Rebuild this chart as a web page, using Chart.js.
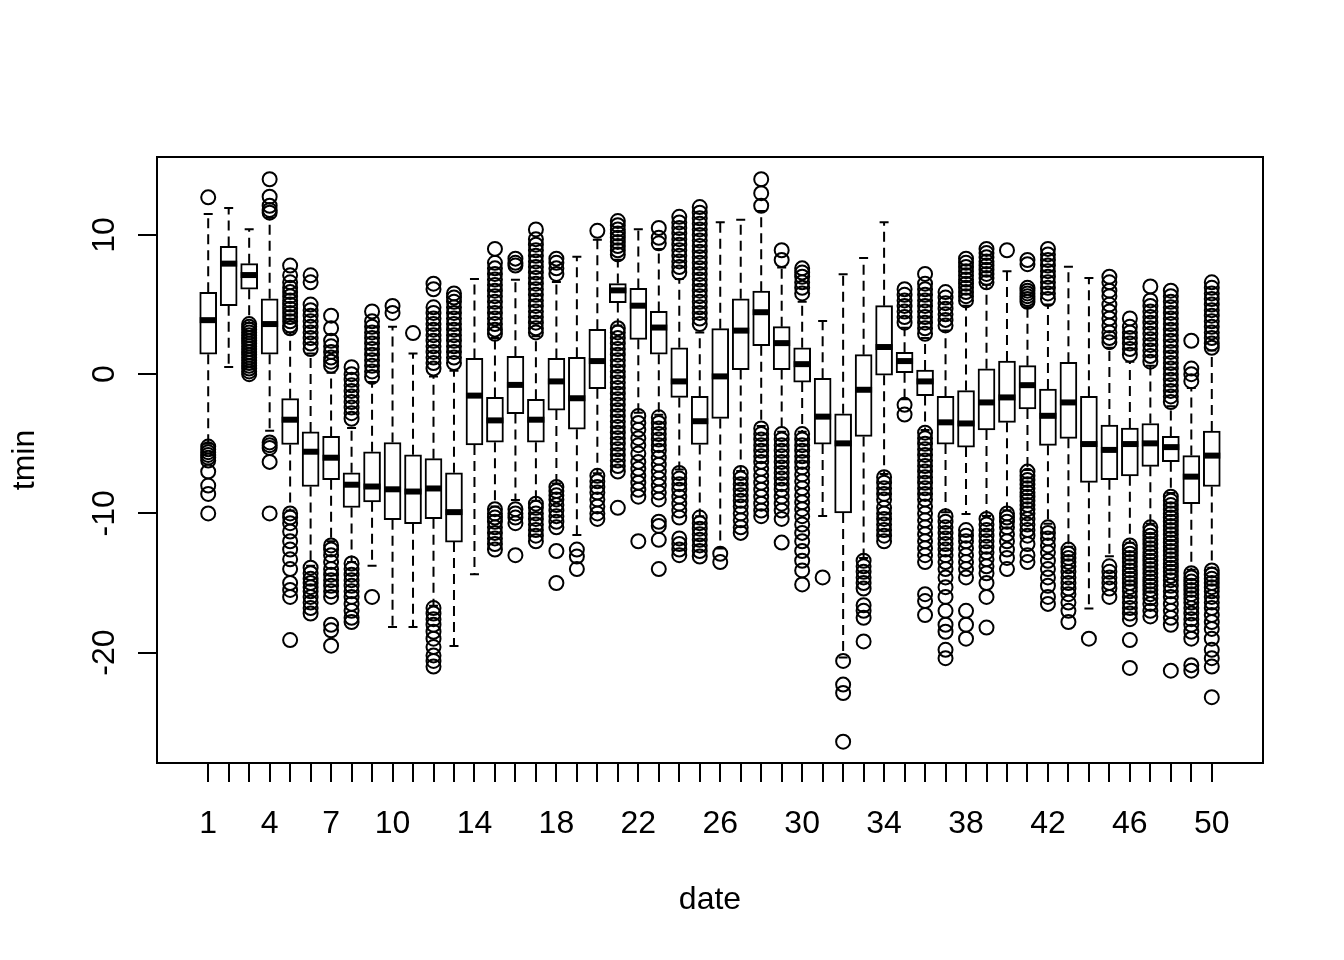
<!DOCTYPE html>
<html>
<head>
<meta charset="utf-8">
<title>tmin by date</title>
<script src="https://cdn.jsdelivr.net/npm/chart.js@4.4.1/dist/chart.umd.min.js"></script>
<style>
  html, body { margin: 0; padding: 0; background: #fff; }
  #wrap { width: 1344px; height: 960px; }
</style>
</head>
<body>
<div id="wrap"><canvas id="boxChart" width="1344" height="960"></canvas></div>
<script>
// box statistics per date
const dates = [];
for (let d = 1; d <= 50; d++) dates.push(d);

const xTickLabels = [1, 4, 7, 10, 14, 18, 22, 26, 30, 34, 38, 42, 46, 50];
const yTickValues = [-20, -10, 0, 10];

const q1 = [1.43, 4.92, 6.1, 1.43, -5.05, -8.07, -7.58, -9.58, -9.17, -10.46,
  -10.74, -10.38, -12.06, -5.08, -4.89, -2.83, -4.89, -2.58, -3.95, -1.04,
  5.14, 2.5, 1.43, -1.67, -5.05, -3.18, 0.33, 2.04, 0.33, -0.57,
  -5.02, -9.97, -4.47, -0.08, 0.11, -1.54, -5.02, -5.24, -4.01, -3.46,
  -2.5, -5.11, -4.61, -7.77, -7.58, -7.3, -6.62, -6.29, -9.31, -8.07];

const medians = [3.88, 7.94, 7.12, 3.6, -3.27, -5.57, -6.0, -7.94, -8.07, -8.27,
  -8.43, -8.21, -9.91, -1.54, -3.32, -0.77, -3.27, -0.52, -1.73, 0.94,
  6.02, 4.92, 3.35, -0.52, -3.38, -0.16, 3.13, 4.45, 2.23, 0.72,
  -3.05, -4.97, -1.12, 1.95, 0.94, -0.52, -3.46, -3.54, -2.03, -1.67,
  -0.79, -2.99, -2.03, -5.02, -5.44, -5.02, -4.97, -5.24, -7.36, -5.85];

const q3 = [5.88, 9.18, 7.94, 5.41, -1.76, -4.15, -4.47, -7.08, -5.57, -4.91,
  -5.79, -6.07, -7.08, 1.13, -1.67, 1.29, -1.81, 1.13, 1.21, 3.22,
  6.51, 6.16, 4.51, 1.9, -1.59, 3.27, 5.41, 5.96, 3.41, 1.9,
  -0.3, -2.85, 1.4, 4.92, 1.57, 0.3, -1.59, -1.18, 0.39, 0.94,
  0.61, -1.07, 0.85, -1.59, -3.65, -3.87, -3.54, -4.47, -5.85, -4.09];

const whiskerLow = [-5.0, 0.52, 3.7, -4.06, -9.8, -13.76, -12.0, -13.5, -13.76, -18.16,
  -18.16, -16.64, -19.53, -14.37, -9.5, -9.04, -9.09, -7.85, -11.56, -7.11,
  3.49, -2.77, -2.91, -6.84, -10.2, -12.52, -6.95, -3.73, -4.14, -4.14,
  -10.19, -20.35, -13.21, -7.17, -1.81, -4.01, -9.91, -10.05, -10.19, -9.78,
  -6.89, -10.74, -12.39, -16.84, -13.07, -12.11, -10.74, -8.54, -14.04, -13.9];

const whiskerHigh = [11.5, 11.93, 10.41, 11.24, 3.0, 1.49, 0.11, -3.87, -0.57, 3.41,
  1.49, -0.16, 0.25, 6.84, 2.59, 6.79, 2.72, 6.62, 8.44, 9.65,
  8.22, 10.41, 8.99, 6.84, 3.0, 10.91, 11.1, 11.73, 7.67, 5.2,
  3.82, 7.17, 8.35, 10.91, 3.33, 2.59, 3.13, 4.92, 6.43, 7.39,
  4.8, 5.0, 7.72, 6.9, 1.9, 0.9, 0.6, -2.3, -0.99, 1.7];

const outliers = [
  [12.7, -5.2, -5.4, -5.6, -5.8, -6.0, -6.2, -7.0, -8.0, -8.6, -10.0],
  [],
  [3.6, 3.4, 3.2, 3.0, 2.8, 2.6, 2.4, 2.2, 2.0, 1.8, 1.6, 1.4, 1.2, 1.0, 0.8, 0.6, 0.4, 0.2, 0.0],
  [14.0, 12.75, 12.1, 11.8, 11.6, -4.9, -5.1, -5.3, -6.3, -10.0],
  [7.8, 7.1, 6.6, 6.2, 5.9, 5.6, 5.3, 5.0, 4.7, 4.4, 4.1, 3.8, 3.5, 3.3, -10.0, -10.3, -10.7, -11.3, -12.0, -12.6, -13.3, -14.0, -15.0, -15.5, -16.0, -19.1],
  [7.1, 6.6, 5.0, 4.6, 4.2, 3.8, 3.4, 3.0, 2.6, 2.2, 1.8, -13.9, -14.3, -14.7, -15.0, -15.3, -15.6, -16.0, -16.4, -16.8, -17.2],
  [4.2, 3.3, 2.4, 2.0, 1.6, 1.2, 0.9, 0.6, -12.3, -12.6, -13.0, -13.5, -14.0, -14.4, -14.8, -15.2, -15.6, -16.0, -18.0, -18.4, -19.5],
  [0.5, 0.0, -0.4, -0.8, -1.2, -1.6, -2.0, -2.4, -2.8, -3.2, -13.6, -14.0, -14.4, -14.8, -15.2, -15.6, -16.0, -16.5, -17.0, -17.5, -17.8],
  [4.5, 3.8, 3.4, 3.0, 2.6, 2.2, 1.8, 1.4, 1.0, 0.6, 0.2, -0.2, -16.0],
  [4.9, 4.4],
  [2.95],
  [6.5, 6.1, 4.8, 4.4, 4.0, 3.6, 3.2, 2.8, 2.4, 2.0, 1.6, 1.2, 0.8, 0.4, -16.8, -17.2, -17.6, -18.0, -18.5, -19.0, -19.6, -20.2, -20.6, -21.0],
  [5.8, 5.5, 5.2, 4.8, 4.4, 4.0, 3.6, 3.2, 2.8, 2.4, 2.0, 1.6, 1.2, 0.8],
  [],
  [9.0, 8.0, 7.6, 7.2, 6.8, 6.4, 6.0, 5.6, 5.2, 4.8, 4.4, 4.0, 3.6, 3.2, 2.9, -9.7, -10.0, -10.3, -10.6, -11.0, -11.4, -11.8, -12.2, -12.6],
  [8.3, 8.0, 7.8, -9.7, -10.0, -10.3, -10.7, -13.0],
  [10.4, 9.7, 9.3, 8.9, 8.5, 8.1, 7.7, 7.3, 6.9, 6.5, 6.1, 5.7, 5.3, 4.9, 4.5, 4.1, 3.7, 3.3, 3.0, -9.3, -9.6, -10.0, -10.4, -10.8, -11.2, -11.6, -12.0],
  [8.3, 8.0, 7.6, 7.2, -8.1, -8.4, -8.7, -9.0, -9.4, -9.8, -10.2, -10.6, -11.0, -12.7, -15.0],
  [-12.6, -13.1, -14.0],
  [10.3, -7.3, -7.7, -8.1, -8.5, -9.0, -9.5, -10.0, -10.4],
  [11.0, 10.7, 10.4, 10.1, 9.8, 9.5, 9.2, 8.9, 8.6, 3.3, 3.0, 2.6, 2.2, 1.8, 1.4, 1.0, 0.6, 0.2, -0.2, -0.6, -1.0, -1.4, -1.8, -2.2, -2.6, -3.0, -3.4, -3.8, -4.2, -4.6, -5.0, -5.4, -5.8, -6.2, -6.6, -7.0, -9.6],
  [-3.0, -3.5, -4.0, -4.6, -5.1, -5.7, -6.3, -6.8, -7.3, -7.8, -8.3, -8.8, -12.0],
  [10.5, 9.8, 9.4, -3.1, -3.5, -3.9, -4.3, -4.7, -5.1, -5.5, -6.0, -6.5, -7.0, -7.5, -8.0, -8.5, -9.0, -10.6, -10.9, -11.9, -14.0],
  [11.3, 10.9, 10.5, 10.1, 9.7, 9.3, 8.9, 8.5, 8.1, 7.7, 7.3, -7.1, -7.5, -7.9, -8.3, -8.8, -9.3, -9.8, -10.3, -11.8, -12.2, -12.6, -13.0],
  [12.0, 11.6, 11.2, 10.8, 10.4, 10.0, 9.6, 9.2, 8.8, 8.4, 8.0, 7.6, 7.2, 6.8, 6.4, 6.0, 5.6, 5.2, 4.8, 4.4, 4.0, 3.6, -10.3, -10.7, -11.1, -11.5, -11.9, -12.3, -12.7, -13.1],
  [-12.9, -13.5],
  [-7.1, -7.5, -7.9, -8.3, -8.7, -9.1, -9.5, -10.0, -10.5, -11.0, -11.4],
  [14.0, 13.0, 12.1, -3.9, -4.3, -4.7, -5.1, -5.5, -5.9, -6.3, -6.8, -7.3, -7.8, -8.3, -8.8, -9.3, -9.8, -10.2],
  [8.9, 8.2, -4.3, -4.7, -5.1, -5.5, -5.9, -6.3, -6.7, -7.1, -7.5, -7.9, -8.3, -8.8, -9.3, -9.8, -10.4, -12.1],
  [7.6, 7.3, 7.0, 6.6, 6.2, 5.8, -4.3, -4.7, -5.1, -5.5, -5.9, -6.3, -6.7, -7.2, -7.7, -8.2, -8.7, -9.2, -9.7, -10.2, -10.8, -11.4, -12.0, -12.7, -13.4, -14.1, -15.1],
  [-14.6],
  [-20.6, -22.3, -22.9, -26.4],
  [-13.4, -13.8, -14.2, -14.6, -15.0, -15.4, -16.6, -17.0, -17.5, -19.2],
  [-7.4, -7.8, -8.2, -8.6, -9.0, -9.6, -10.0, -10.4, -10.8, -11.2, -11.6, -12.0],
  [6.1, 5.7, 5.3, 4.9, 4.5, 4.1, 3.7, -2.2, -2.9],
  [7.2, 6.5, 6.1, 5.7, 5.3, 4.9, 4.5, 4.1, 3.7, 3.3, 2.9, -4.2, -4.6, -5.0, -5.4, -5.8, -6.2, -6.6, -7.0, -7.4, -7.8, -8.2, -8.6, -9.0, -9.5, -10.0, -10.5, -11.0, -11.5, -12.0, -12.5, -13.0, -13.5, -15.8, -16.3, -17.3],
  [5.9, 5.5, 5.1, 4.7, 4.3, 3.9, 3.5, -10.2, -10.6, -11.0, -11.4, -11.8, -12.2, -12.6, -13.0, -13.5, -14.0, -14.6, -15.3, -16.0, -17.0, -18.0, -18.5, -19.8, -20.4],
  [8.3, 8.0, 7.7, 7.4, 7.1, 6.8, 6.5, 6.2, 5.9, 5.6, 5.3, -11.2, -11.6, -12.0, -12.5, -13.0, -13.5, -14.0, -14.6, -17.0, -18.0, -19.0],
  [9.0, 8.7, 8.4, 8.1, 7.8, 7.5, 7.2, 6.9, 6.6, -10.4, -10.8, -11.2, -11.6, -12.0, -12.4, -12.8, -13.3, -13.8, -14.3, -15.0, -16.0, -18.2],
  [8.9, -10.0, -10.3, -10.6, -11.0, -11.5, -12.0, -12.6, -13.2, -14.0],
  [8.2, 7.9, 6.2, 6.0, 5.8, 5.6, 5.4, 5.2, -7.0, -7.3, -7.6, -7.9, -8.2, -8.5, -8.8, -9.1, -9.4, -9.7, -10.0, -10.4, -10.8, -11.2, -11.6, -12.2, -13.0, -13.5],
  [9.0, 8.6, 8.2, 7.8, 7.4, 7.0, 6.6, 6.2, 5.8, 5.4, -11.0, -11.4, -11.8, -12.3, -12.8, -13.4, -14.0, -14.6, -15.2, -16.0, -16.5],
  [-12.6, -12.9, -13.2, -13.5, -13.8, -14.2, -14.6, -15.0, -15.4, -15.8, -16.4, -17.0, -17.8],
  [-19.0],
  [7.0, 6.6, 6.0, 5.6, 5.0, 4.5, 4.0, 3.5, 3.0, 2.6, 2.3, -13.8, -14.2, -14.6, -15.0, -15.4, -16.0],
  [4.0, 3.4, 3.0, 2.6, 2.2, 1.8, 1.4, -12.3, -12.6, -12.9, -13.2, -13.5, -13.8, -14.1, -14.4, -14.7, -15.0, -15.3, -15.6, -16.0, -16.4, -16.8, -17.2, -17.6, -19.1, -21.1],
  [6.3, 5.3, 4.9, 4.5, 4.1, 3.7, 3.3, 2.9, 2.5, 2.1, 1.7, 1.3, 0.9, -11.0, -11.3, -11.6, -11.9, -12.2, -12.5, -12.8, -13.1, -13.4, -13.7, -14.0, -14.3, -14.6, -14.9, -15.2, -15.5, -15.8, -16.1, -16.5, -17.0, -17.4],
  [6.0, 5.6, 5.2, 4.8, 4.4, 4.0, 3.6, 3.2, 2.8, 2.4, 2.0, 1.6, 1.2, 0.8, 0.4, 0.0, -0.4, -0.8, -1.2, -1.6, -2.0, -8.8, -9.1, -9.4, -9.7, -10.0, -10.3, -10.6, -10.9, -11.2, -11.5, -11.8, -12.1, -12.4, -12.7, -13.0, -13.3, -13.6, -13.9, -14.2, -14.5, -14.8, -15.2, -15.6, -16.0, -16.5, -17.0, -17.5, -18.0, -21.3],
  [2.4, 0.4, 0.0, -0.5, -14.3, -14.6, -14.9, -15.2, -15.5, -15.8, -16.1, -16.4, -16.8, -17.2, -17.6, -18.0, -18.5, -19.0, -20.9, -21.3],
  [6.6, 6.2, 5.8, 5.4, 5.0, 4.6, 4.2, 3.8, 3.4, 3.0, 2.6, 2.2, 1.9, -14.1, -14.4, -14.7, -15.0, -15.3, -15.6, -16.0, -16.4, -16.8, -17.3, -17.8, -18.3, -19.0, -19.8, -20.4, -21.0, -23.2]
];

const FONT = { family: '"Liberation Sans", Arial, Helvetica, sans-serif', size: 32 };
const BOX_PX = 17;

// box bodies as floating bars, outliers as scatter points
const boxData = dates.map((d, i) => ({ x: d, y: [q1[i], q3[i]] }));
const outlierData = [];
dates.forEach((d, i) => {
    outliers[i].forEach(v => outlierData.push({ x: d, y: v }));
});

// whiskers (under the boxes) and medians (on top of the boxes)
const boxParts = {
    id: 'boxParts',
    beforeDatasetsDraw(chart) {
        const ctx = chart.ctx;
        const xs = chart.scales.x, ys = chart.scales.y;
        ctx.save();
        ctx.strokeStyle = '#000';
        ctx.lineWidth = 2;
        dates.forEach((d, i) => {
            const px = xs.getPixelForValue(d);
            const hi = ys.getPixelForValue(whiskerHigh[i]);
            const lo = ys.getPixelForValue(whiskerLow[i]);
            ctx.setLineDash([10, 6]);
            ctx.beginPath();
            ctx.moveTo(px, ys.getPixelForValue(q3[i]));
            ctx.lineTo(px, hi);
            ctx.moveTo(px, ys.getPixelForValue(q1[i]));
            ctx.lineTo(px, lo);
            ctx.stroke();
            ctx.setLineDash([]);
            ctx.beginPath();
            ctx.moveTo(px - 4.5, hi);
            ctx.lineTo(px + 4.5, hi);
            ctx.moveTo(px - 4.5, lo);
            ctx.lineTo(px + 4.5, lo);
            ctx.stroke();
        });
        ctx.restore();
    },
    afterDatasetDraw(chart, args) {
        if (args.index !== 0) return;
        const ctx = chart.ctx;
        const xs = chart.scales.x, ys = chart.scales.y;
        ctx.save();
        ctx.strokeStyle = '#000';
        ctx.lineWidth = 6;
        dates.forEach((d, i) => {
            const px = xs.getPixelForValue(d);
            const py = ys.getPixelForValue(medians[i]);
            ctx.beginPath();
            ctx.moveTo(px - BOX_PX / 2, py);
            ctx.lineTo(px + BOX_PX / 2, py);
            ctx.stroke();
        });
        ctx.restore();
    },
    afterDraw(chart) {
        // plot frame
        const a = chart.chartArea;
        const ctx = chart.ctx;
        ctx.save();
        ctx.strokeStyle = '#000';
        ctx.lineWidth = 2;
        ctx.strokeRect(a.left, a.top, a.right - a.left, a.bottom - a.top);
        ctx.restore();
    }
};

new Chart(document.getElementById('boxChart'), {
    data: {
        datasets: [
            {
                type: 'bar',
                data: boxData,
                backgroundColor: '#fff',
                borderColor: '#000',
                borderWidth: 2,
                borderSkipped: false,
                barThickness: BOX_PX,
                order: 1
            },
            {
                type: 'scatter',
                data: outlierData,
                pointStyle: 'circle',
                pointRadius: 7,
                pointBorderWidth: 2,
                borderColor: '#000',
                backgroundColor: 'rgba(0,0,0,0)',
                order: 0
            }
        ]
    },
    options: {
        responsive: false,
        animation: false,
        layout: { padding: { top: 157, right: 81, left: 0, bottom: 0 } },
        plugins: {
            legend: { display: false },
            tooltip: { enabled: false }
        },
        scales: {
            x: {
                type: 'linear',
                min: -1.5,
                max: 52.5,
                offset: false,
                afterBuildTicks: scale => { scale.ticks = dates.map(v => ({ value: v })); },
                afterFit: scale => { scale.height = 197; },
                border: { display: false },
                grid: { offset: false, drawOnChartArea: false, tickLength: 19, color: '#000', lineWidth: 2 },
                ticks: {
                    autoSkip: false,
                    maxRotation: 0,
                    padding: 23,
                    color: '#000',
                    font: FONT,
                    callback: v => xTickLabels.includes(v) ? String(v) : ''
                },
                title: { display: true, text: 'date', color: '#000', font: FONT, padding: { top: 0, bottom: 41 } }
            },
            y: {
                type: 'linear',
                min: -27.93,
                max: 15.6,
                afterBuildTicks: scale => { scale.ticks = yTickValues.map(v => ({ value: v })); },
                afterFit: scale => { scale.width = 157; },
                border: { display: false },
                grid: { drawOnChartArea: false, tickLength: 19, color: '#000', lineWidth: 2 },
                ticks: {
                    minRotation: 90,
                    maxRotation: 90,
                    crossAlign: 'center',
                    padding: 10,
                    color: '#000',
                    font: FONT
                },
                title: { display: true, text: 'tmin', color: '#000', font: FONT, padding: { top: 6, bottom: 0 } }
            }
        }
    },
    plugins: [boxParts]
});
</script>
</body>
</html>
